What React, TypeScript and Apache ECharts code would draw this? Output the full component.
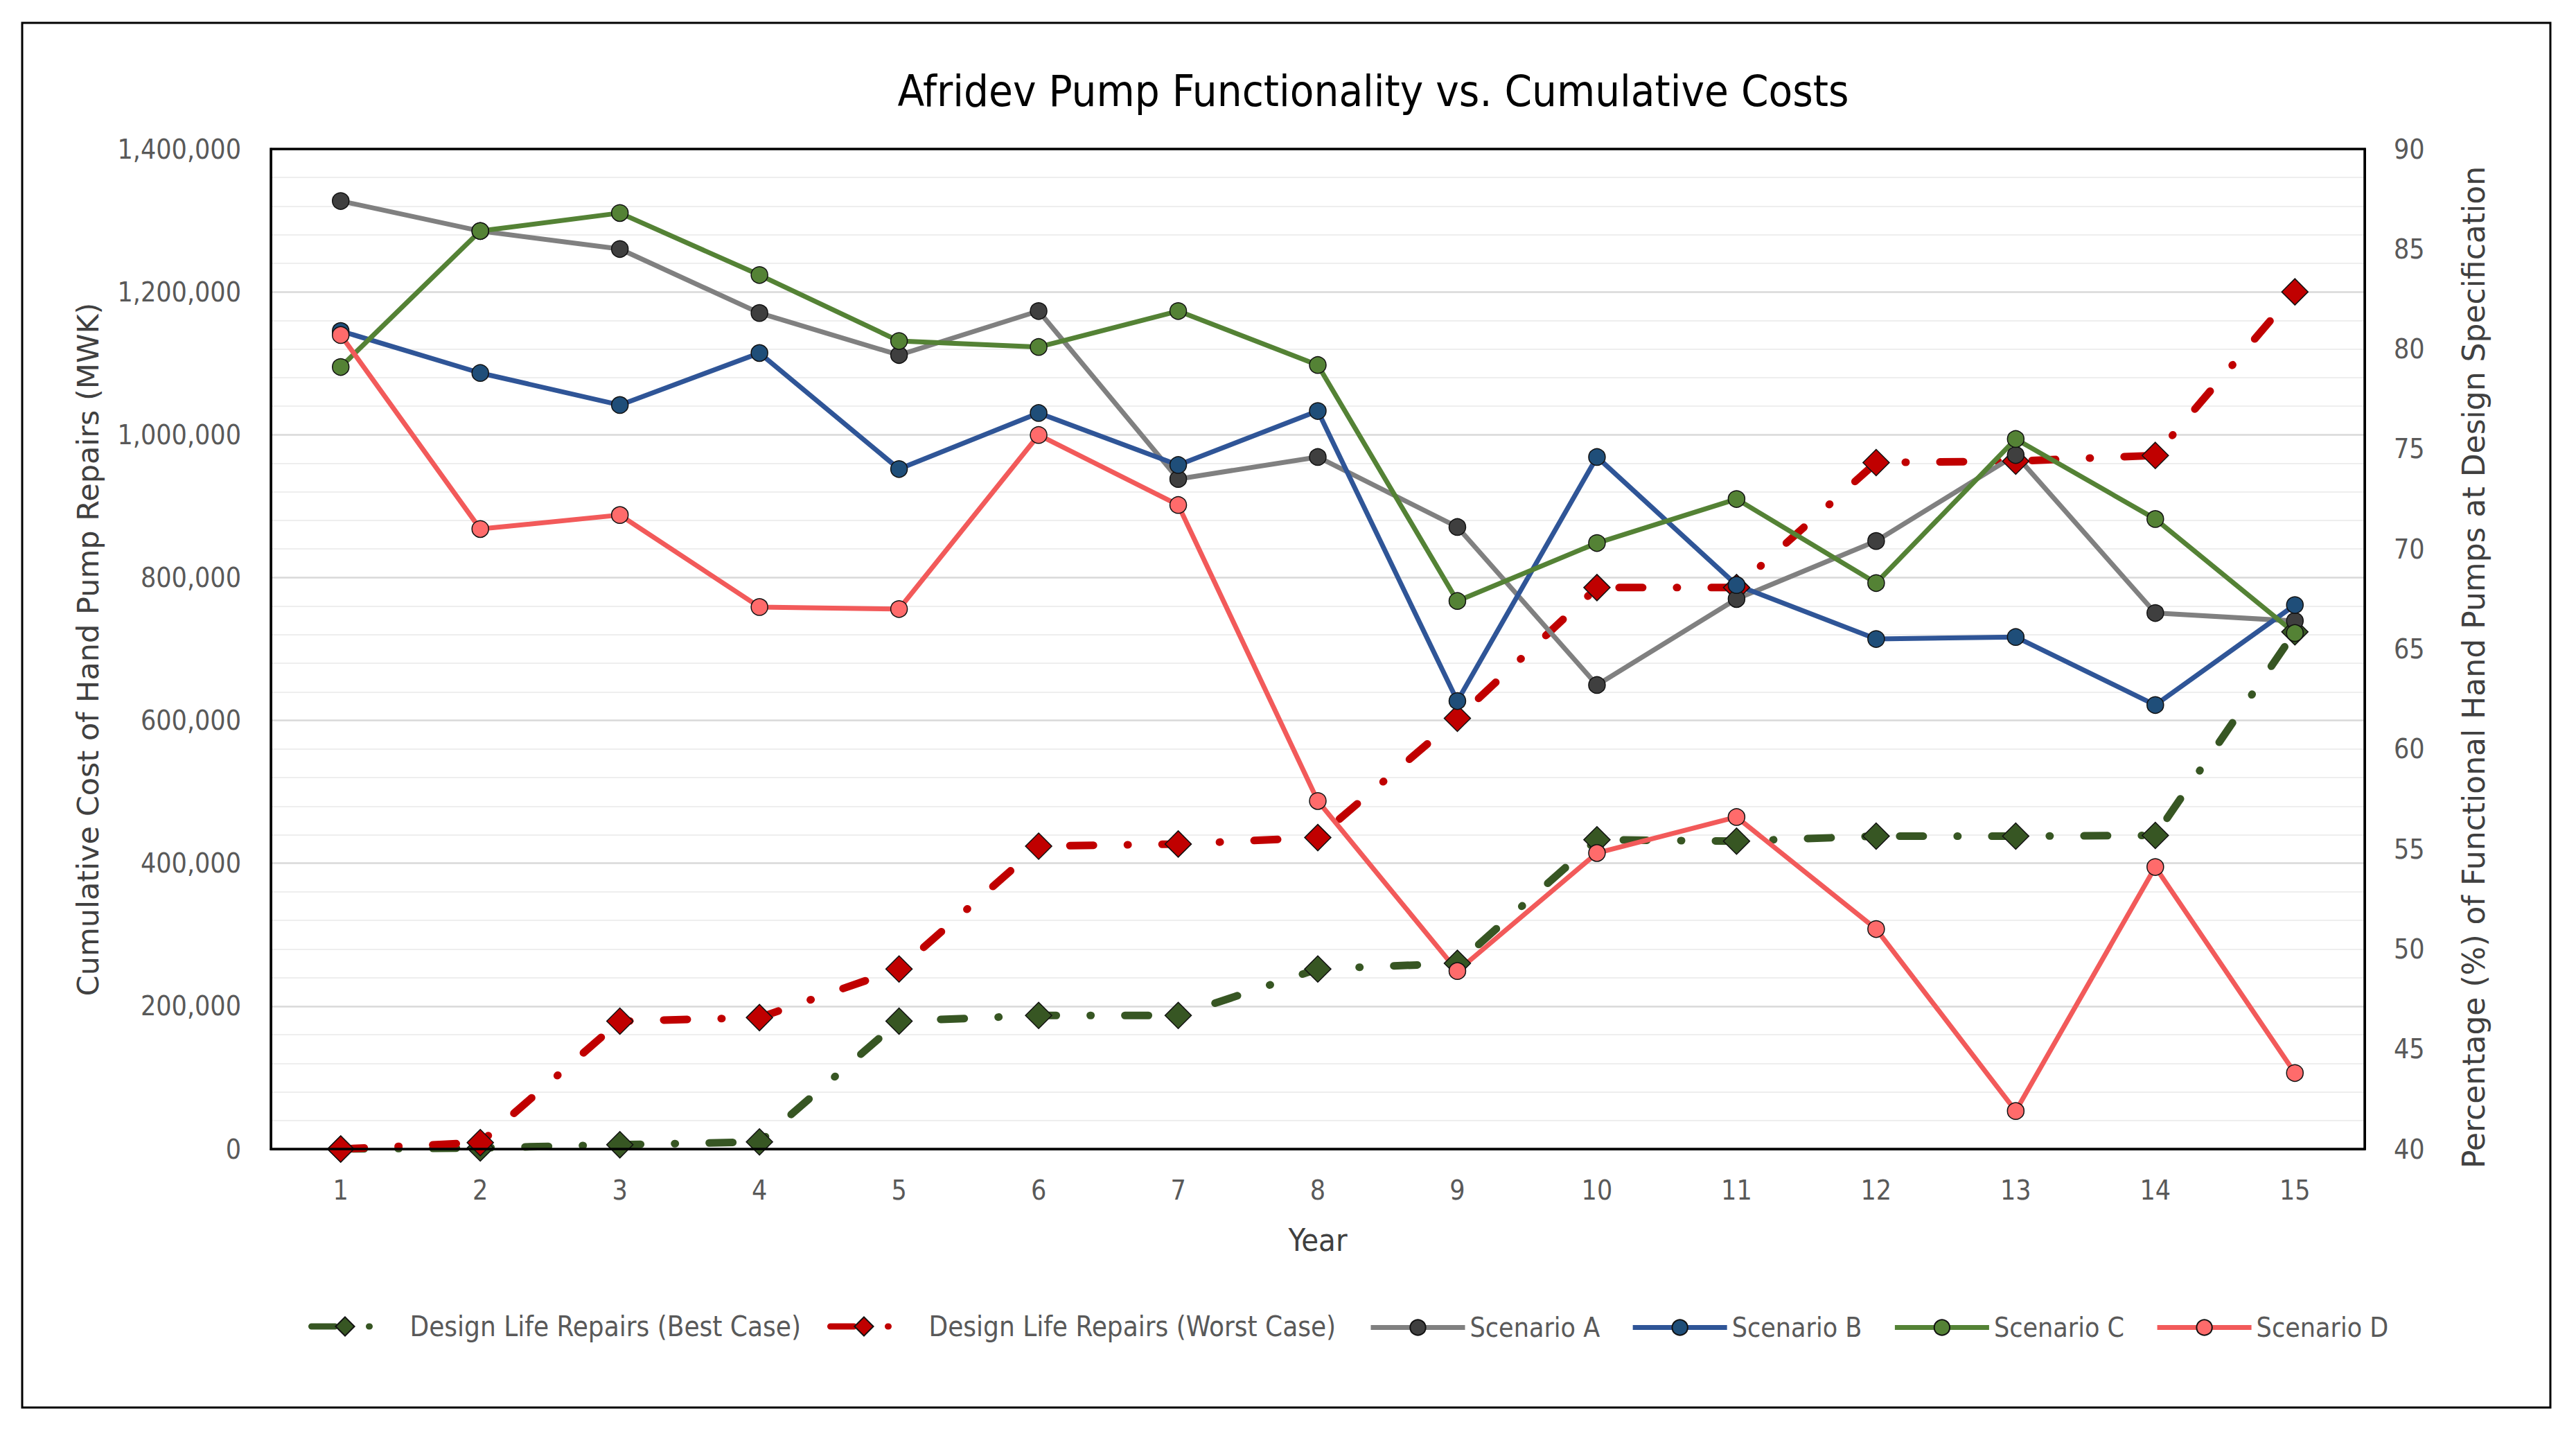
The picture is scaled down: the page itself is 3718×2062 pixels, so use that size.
import React, { useEffect, useRef } from 'react';
import * as echarts from 'echarts';

const years = ['1', '2', '3', '4', '5', '6', '7', '8', '9', '10', '11', '12', '13', '14', '15'];

const bestCase = [0, 1500, 6000, 10000, 179000, 187000, 187000, 252000, 260000, 433000, 431000, 438000, 438000, 439000, 724000];
const worstCase = [0, 9000, 179000, 184000, 252000, 424000, 427000, 436000, 603000, 786000, 786000, 961000, 963000, 971000, 1200000];

const scenarioA = [87.4, 85.9, 85.0, 81.8, 79.7, 81.9, 73.5, 74.6, 71.1, 63.2, 67.5, 70.4, 74.7, 66.8, 66.4];
const scenarioB = [80.9, 78.8, 77.2, 79.8, 74.0, 76.8, 74.2, 76.9, 62.4, 74.6, 68.2, 65.5, 65.6, 62.2, 67.2];
const scenarioC = [79.1, 85.9, 86.8, 83.7, 80.4, 80.1, 81.9, 79.2, 67.4, 70.3, 72.5, 68.3, 75.5, 71.5, 65.8];
const scenarioD = [80.7, 71.0, 71.7, 67.1, 67.0, 75.7, 72.2, 57.4, 48.9, 54.8, 56.6, 51.0, 41.9, 54.1, 43.8];

const costMin = 0;
const costMax = 1400000;
const costStep = 200000;
const pctMin = 40;
const pctMax = 90;
const pctStep = 5;

const CAL = "'DejaVu Sans Condensed', 'Liberation Sans Narrow', sans-serif";
const WIDE = "'DejaVu Sans', sans-serif";

const designSeries = (name: string, data: number[], color: string) => ({
  name,
  type: 'line',
  yAxisIndex: 0,
  data,
  symbol: 'diamond',
  symbolSize: 38,
  showSymbol: true,
  showAllSymbol: true,
  lineStyle: { color, width: 11, type: [34, 49, 1, 49], cap: 'round' },
  itemStyle: { color, borderColor: '#111', borderWidth: 1.5 },
});

const scenarioSeries = (name: string, data: number[], line: string, marker: string) => ({
  name,
  type: 'line',
  yAxisIndex: 1,
  data,
  symbol: 'circle',
  symbolSize: 24,
  showSymbol: true,
  showAllSymbol: true,
  lineStyle: { color: line, width: 7 },
  itemStyle: { color: marker, borderColor: '#111', borderWidth: 1.5 },
});

export default function App() {
  const ref = useRef<HTMLDivElement>(null);

  useEffect(() => {
    if (!ref.current) return;
    const chart = echarts.init(ref.current, null, { renderer: 'svg' });
    const option: any = {
      animation: false,
      backgroundColor: '#ffffff',
      grid: {
        left: 391,
        top: 215,
        width: 3022,
        height: 1443,
        show: false,
        containLabel: false,
      },
      legend: [
        {
          left: 440,
          top: 1889,
          orient: 'horizontal',
          itemWidth: 97,
          itemHeight: 34,
          itemGap: 38,
          lineStyle: { width: 9 },
          data: ['Design Life Repairs (Best Case)', 'Design Life Repairs (Worst Case)'],
          textStyle: { fontFamily: CAL, fontSize: 40, color: '#595959', padding: [0, 0, 0, 40] },
        },
        {
          left: 1970,
          top: 1891,
          orient: 'horizontal',
          itemWidth: 136,
          itemHeight: 28,
          itemGap: 44,
          lineStyle: { width: 7 },
          data: ['Scenario A', 'Scenario B', 'Scenario C', 'Scenario D'],
          textStyle: { fontFamily: CAL, fontSize: 39, color: '#595959', padding: [0, 0, 0, 2] },
        },
      ],
      xAxis: {
        type: 'category',
        data: years,
        boundaryGap: true,
        axisLine: { show: true, lineStyle: { color: '#000', width: 3 } },
        axisTick: { show: false },
        axisLabel: { fontFamily: CAL, fontSize: 39, color: '#595959', margin: 40, interval: 0 },
        splitLine: { show: false },
        name: 'Year',
        nameLocation: 'middle',
        nameGap: 109,
        nameTextStyle: { fontFamily: CAL, fontSize: 45, color: '#404040' },
      },
      yAxis: [
        {
          type: 'value',
          position: 'left',
          min: costMin,
          max: costMax,
          interval: costStep,
          axisLine: { show: true, lineStyle: { color: '#000', width: 3 } },
          axisTick: { show: false },
          axisLabel: {
            fontFamily: CAL,
            fontSize: 39,
            color: '#595959',
            margin: 43,
            formatter: (v: number) => v.toLocaleString('en-US'),
          },
          splitLine: { show: true, lineStyle: { color: '#D9D9D9', width: 2.5 } },
          minorTick: { show: false, splitNumber: 5 },
          minorSplitLine: { show: true, lineStyle: { color: '#EEEEEE', width: 2 } },
        },
        {
          type: 'value',
          position: 'right',
          min: pctMin,
          max: pctMax,
          interval: pctStep,
          axisLine: { show: true, lineStyle: { color: '#000', width: 3 } },
          axisTick: { show: false },
          axisLabel: { fontFamily: CAL, fontSize: 39, color: '#595959', margin: 42 },
          splitLine: { show: false },
        },
      ],
      graphic: [
        {
          type: 'rect',
          shape: { x: 32, y: 33, width: 3649, height: 1998 },
          style: { fill: 'none', stroke: '#000', lineWidth: 3 },
          silent: true,
        },
        {
          type: 'rect',
          z: 100,
          shape: { x: 391, y: 215, width: 3022, height: 1443 },
          style: { fill: 'none', stroke: '#000', lineWidth: 3.5 },
          silent: true,
        },
        {
          type: 'text',
          x: 1982,
          y: 131,
          style: {
            text: 'Afridev Pump Functionality vs. Cumulative Costs',
            fontFamily: CAL,
            fontSize: 63,
            fill: '#000',
            align: 'center',
            verticalAlign: 'middle',
            textAlign: 'center',
            textVerticalAlign: 'middle',
          },
        },
        {
          type: 'text',
          x: 127,
          y: 937,
          rotation: Math.PI / 2,
          style: {
            text: 'Cumulative Cost of Hand Pump Repairs (MWK)',
            fontFamily: WIDE,
            fontSize: 43,
            fill: '#404040',
            align: 'center',
            verticalAlign: 'middle',
            textAlign: 'center',
            textVerticalAlign: 'middle',
          },
        },
        {
          type: 'text',
          x: 3570,
          y: 963,
          rotation: Math.PI / 2,
          style: {
            text: 'Percentage (%) of Functional Hand Pumps at Design Specification',
            fontFamily: WIDE,
            fontSize: 44,
            fill: '#404040',
            align: 'center',
            verticalAlign: 'middle',
            textAlign: 'center',
            textVerticalAlign: 'middle',
          },
        },
      ],
      series: [
        designSeries('Design Life Repairs (Best Case)', bestCase, '#375623'),
        designSeries('Design Life Repairs (Worst Case)', worstCase, '#C00000'),
        scenarioSeries('Scenario A', scenarioA, '#808080', '#3F3F3F'),
        scenarioSeries('Scenario B', scenarioB, '#2F5597', '#1F4E79'),
        scenarioSeries('Scenario C', scenarioC, '#548235', '#548235'),
        scenarioSeries('Scenario D', scenarioD, '#F25A5A', '#FF6B6B'),
      ],
    };
    chart.setOption(option);
    return () => chart.dispose();
  }, []);

  return (
    <div
      ref={ref}
      style={{ position: 'absolute', left: 0, top: 0, width: 3718, height: 2062, background: '#fff' }}
    />
  );
}
